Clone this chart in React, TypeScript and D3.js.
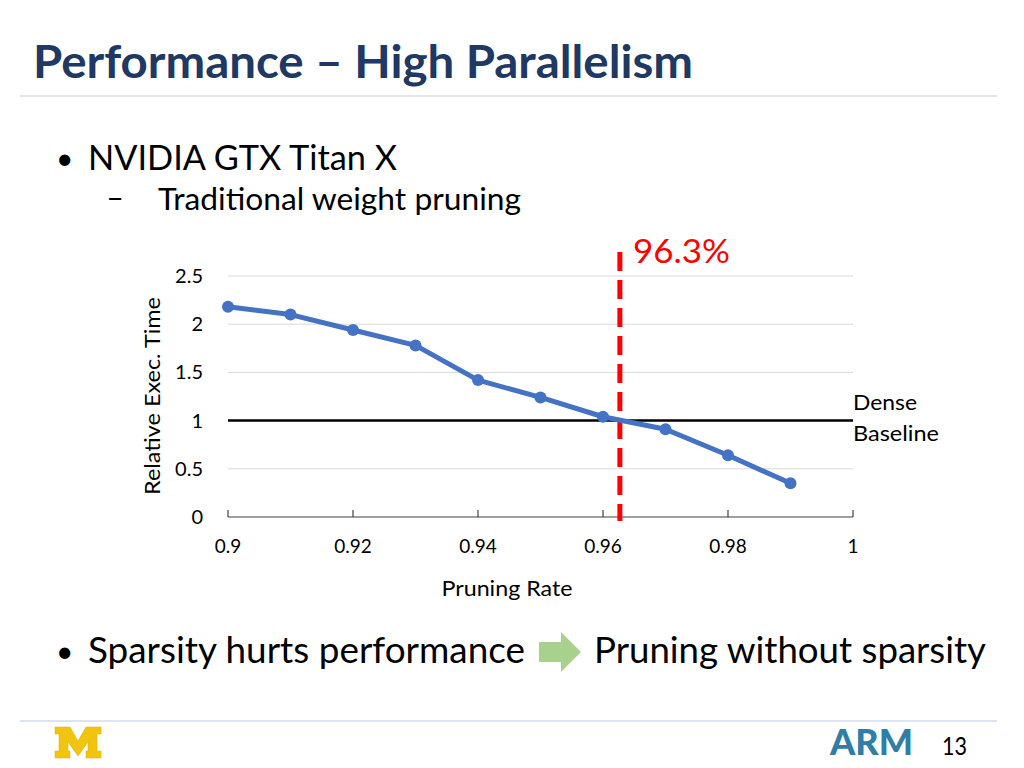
import React from "react";
import * as d3 from "d3";

const pruningRates = [0.9, 0.91, 0.92, 0.93, 0.94, 0.95, 0.96, 0.97, 0.98, 0.99];
const relExecTime = [2.18, 2.1, 1.94, 1.78, 1.42, 1.24, 1.04, 0.91, 0.64, 0.35];
const xTicks = [0.9, 0.92, 0.94, 0.96, 0.98, 1];
const xTickLabels = ["0.9", "0.92", "0.94", "0.96", "0.98", "1"];
const yTicks = [0, 0.5, 1, 1.5, 2, 2.5];
const yTickLabels = ["0", "0.5", "1", "1.5", "2", "2.5"];
const baselineValue = 1;
const thresholdRate = 0.9627;
const thresholdLabel = "96.3%";

const FONT = "Lato, 'Open Sans', 'Noto Sans', sans-serif";

export default function App() {
  const x = d3.scaleLinear().domain([0.9, 1]).range([228, 853]);
  const y = d3.scaleLinear().domain([0, 2.5]).range([517, 276]);
  const pts = pruningRates.map((r, i) => [r, relExecTime[i]] as [number, number]);
  const line = d3
    .line<[number, number]>()
    .x((d) => x(d[0]))
    .y((d) => y(d[1]));

  // block M logo polygon (relative coords)
  const mPts: [number, number][] = [
    [0, 0], [15, 0], [23, 14], [31, 0], [46, 0], [46, 7], [42, 7], [42, 24], [46, 24], [46, 31],
    [31, 31], [31, 24], [33, 24], [33, 15], [23, 29], [13, 15], [13, 24], [15, 24], [15, 31],
    [0, 31], [0, 24], [4, 24], [4, 7], [0, 7],
  ];

  return (
    <svg width={1024} height={768} style={{ position: "absolute", left: 0, top: 0, background: "#fff" }}>
      <rect width={1024} height={768} fill="#fff" />
      {/* title */}
      <text x={33} y={78} fontFamily={FONT} fontWeight={700} fontSize={45} fill="#203864"
        textLength={660} lengthAdjust="spacingAndGlyphs">Performance – High Parallelism</text>
      <line x1={20} x2={997} y1={96} y2={96} stroke="#e3e3ea" strokeWidth={2} />

      {/* bullets */}
      <text x={56} y={169} fontFamily={FONT} fontSize={30} fill="#000">•</text>
      <text x={88} y={170} fontFamily={FONT} fontSize={34} fill="#000"
        textLength={309} lengthAdjust="spacingAndGlyphs">NVIDIA GTX Titan X</text>
      <text x={107} y={209} fontFamily={FONT} fontSize={28} fill="#000">−</text>
      <text x={158} y={210} fontFamily={FONT} fontSize={30} fill="#000"
        textLength={363} lengthAdjust="spacingAndGlyphs">Traditional weight pruning</text>

      {/* gridlines */}
      {yTicks.filter((t) => t !== 0 && t !== baselineValue).map((t) => (
        <line key={t} x1={x(0.9)} x2={x(1)} y1={y(t)} y2={y(t)} stroke="#d9d9d9" strokeWidth={1} />
      ))}
      {/* baseline */}
      <line x1={x(0.9)} x2={x(1)} y1={y(baselineValue)} y2={y(baselineValue)} stroke="#000" strokeWidth={2.5} />
      <text x={853} y={410} fontFamily={FONT} fontSize={22} fill="#000"
        textLength={64} lengthAdjust="spacingAndGlyphs">Dense</text>
      <text x={853} y={441} fontFamily={FONT} fontSize={22} fill="#000"
        textLength={86} lengthAdjust="spacingAndGlyphs">Baseline</text>

      {/* x axis */}
      <line x1={x(0.9)} x2={x(1)} y1={y(0)} y2={y(0)} stroke="#404040" strokeWidth={1.2} />
      {xTicks.map((t, i) => (
        <g key={t}>
          <line x1={x(t)} x2={x(t)} y1={y(0)} y2={y(0) - 7} stroke="#404040" strokeWidth={1.2} />
          <text x={x(t)} y={553} textAnchor="middle" fontFamily={FONT} fontSize={19} fill="#000">{xTickLabels[i]}</text>
        </g>
      ))}
      {yTicks.map((t, i) => (
        <text key={t} x={203} y={y(t) + 7} textAnchor="end" fontFamily={FONT} fontSize={20} fill="#000">{yTickLabels[i]}</text>
      ))}
      <text x={507} y={596} textAnchor="middle" fontFamily={FONT} fontSize={21} fill="#000"
        textLength={131} lengthAdjust="spacingAndGlyphs">Pruning Rate</text>
      <text transform="translate(160,396) rotate(-90)" textAnchor="middle" fontFamily={FONT} fontSize={22} fill="#000"
        textLength={198} lengthAdjust="spacingAndGlyphs">Relative Exec. Time</text>

      {/* threshold */}
      <line x1={x(thresholdRate)} x2={x(thresholdRate)} y1={252} y2={521} stroke="#ff0000" strokeWidth={5}
        strokeDasharray="19 9" />
      <text x={633} y={263} fontFamily={FONT} fontSize={32} fill="#ff0000"
        textLength={97} lengthAdjust="spacingAndGlyphs">{thresholdLabel}</text>

      {/* series */}
      <path d={line(pts) || ""} fill="none" stroke="#4472c4" strokeWidth={5} strokeLinejoin="round" />
      {pts.map((p) => (
        <circle key={p[0]} cx={x(p[0])} cy={y(p[1])} r={6} fill="#4472c4" />
      ))}

      {/* bottom bullet */}
      <text x={56} y={662} fontFamily={FONT} fontSize={30} fill="#000">•</text>
      <text x={88} y={663} fontFamily={FONT} fontSize={36} fill="#000"
        textLength={437} lengthAdjust="spacingAndGlyphs">Sparsity hurts performance</text>
      <polygon points="539,642 561,642 561,632 581,652 561,672 561,662 539,662" fill="#a9d18e" />
      <text x={594} y={663} fontFamily={FONT} fontSize={36} fill="#000"
        textLength={392} lengthAdjust="spacingAndGlyphs">Pruning without sparsity</text>

      {/* footer */}
      <line x1={20} x2={997} y1={721} y2={721} stroke="#dde3f0" strokeWidth={2} />
      <polygon points={mPts.map((p) => `${55 + p[0]},${727 + p[1]}`).join(" ")} fill="#f1c40f" stroke="#e0b000" strokeWidth={0.5} />
      <text x={830} y={755} fontFamily={FONT} fontWeight={900} fontSize={36} fill="#2e7ea6"
        textLength={83} lengthAdjust="spacingAndGlyphs">ARM</text>
      <text x={942} y={755} fontFamily={FONT} fontSize={25} fill="#000"
        textLength={25} lengthAdjust="spacingAndGlyphs">13</text>
    </svg>
  );
}
